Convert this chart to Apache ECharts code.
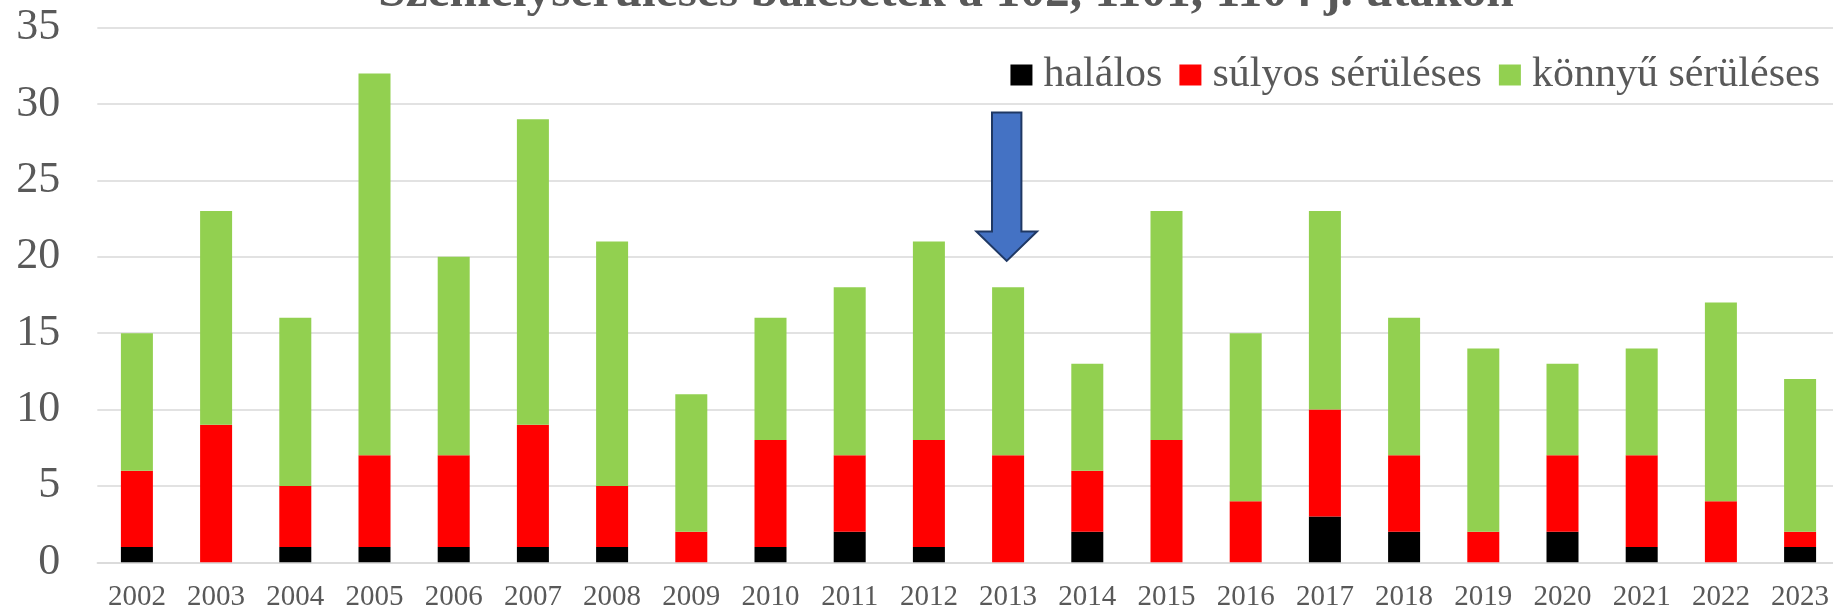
<!DOCTYPE html>
<html>
<head>
<meta charset="utf-8">
<script src="https://cdn.jsdelivr.net/npm/echarts@6/dist/echarts.min.js"></script>
<style>
html,body{margin:0;padding:0;background:#fff;}
#chart{width:1833px;height:611px;}
</style>
</head>
<body>
<div id="chart"></div>
<script>
const titleText = 'Személysérüléses balesetek a 102, 1101, 1104 j. utakon';
const years = ['2002','2003','2004','2005','2006','2007','2008','2009','2010','2011','2012','2013','2014','2015','2016','2017','2018','2019','2020','2021','2022','2023'];
const halalos = [1,0,1,1,1,1,1,0,1,2,1,0,2,0,0,3,2,0,2,1,0,1];
const sulyos  = [5,9,4,6,6,8,4,2,7,5,7,7,4,8,4,7,5,2,5,6,4,1];
const konnyu  = [9,14,11,25,13,20,16,9,8,11,13,11,7,15,11,13,9,12,6,7,13,10];
const seriesNames = ['halálos','súlyos sérüléses','könnyű sérüléses'];
const seriesColors = ['#000000','#FF0000','#92D050'];
const yTicks = [0,5,10,15,20,25,30,35];
const arrowYear = '2013';
const arrowTop = 29.44, arrowHeadStart = 21.65, arrowTip = 19.73;

const FONT = '"Liberation Serif", "Times New Roman", serif';
const grey = '#595959';
const chart = echarts.init(document.getElementById('chart'), null, {renderer:'canvas'});

const dataSets = [halalos, sulyos, konnyu];
const option = {
  animation: false,
  backgroundColor: '#ffffff',
  title: {
    text: titleText,
    left: 941, top: -37,
    textAlign: 'center',
    textStyle: {fontFamily: FONT, fontSize: 49.5, fontWeight: 'bold', color: grey}
  },
  legend: {
    data: seriesNames,
    right: 8, top: 49,
    itemWidth: 22, itemHeight: 21, itemGap: 17,
    icon: 'rect',
    textStyle: {fontFamily: FONT, fontSize: 42, color: grey, padding: [0,0,0,6]}
  },
  grid: {left: 97.3, width: 1742.4, top: 27.6, bottom: 48.7, containLabel: false, outerBoundsMode: 'none'},
  xAxis: {
    type: 'category',
    data: years,
    axisTick: {show: false},
    axisLine: {lineStyle: {color: '#d9d9d9', width: 1.5}},
    axisLabel: {fontFamily: FONT, fontSize: 29, color: grey, margin: 21}
  },
  yAxis: {
    type: 'value',
    min: yTicks[0], max: yTicks[yTicks.length-1], interval: 5,
    axisLine: {show: false},
    axisTick: {show: false},
    splitLine: {lineStyle: {color: '#d9d9d9', width: 1.5}},
    axisLabel: {fontFamily: FONT, fontSize: 44, color: grey, margin: 37}
  },
  series: seriesNames.map((n, i) => ({
    name: n,
    type: 'bar',
    stack: 'total',
    barWidth: 32,
    data: dataSets[i],
    itemStyle: {color: seriesColors[i]}
  }))
};
chart.setOption(option);

const pTop = chart.convertToPixel({gridIndex: 0}, [arrowYear, arrowTop]);
const pHead = chart.convertToPixel({gridIndex: 0}, [arrowYear, arrowHeadStart]);
const pTip = chart.convertToPixel({gridIndex: 0}, [arrowYear, arrowTip]);
const cx = pTop[0] - 1.4;
const sw = 14.7, hw = 30.3;
chart.setOption({
  graphic: [{
    type: 'polygon',
    z: 100,
    shape: {points: [
      [cx - sw, pTop[1]], [cx + sw, pTop[1]], [cx + sw, pHead[1]], [cx + hw, pHead[1]],
      [cx, pTip[1]], [cx - hw, pHead[1]], [cx - sw, pHead[1]]
    ]},
    style: {fill: '#4472C4', stroke: '#1F3864', lineWidth: 2}
  }]
});
</script>
</body>
</html>
